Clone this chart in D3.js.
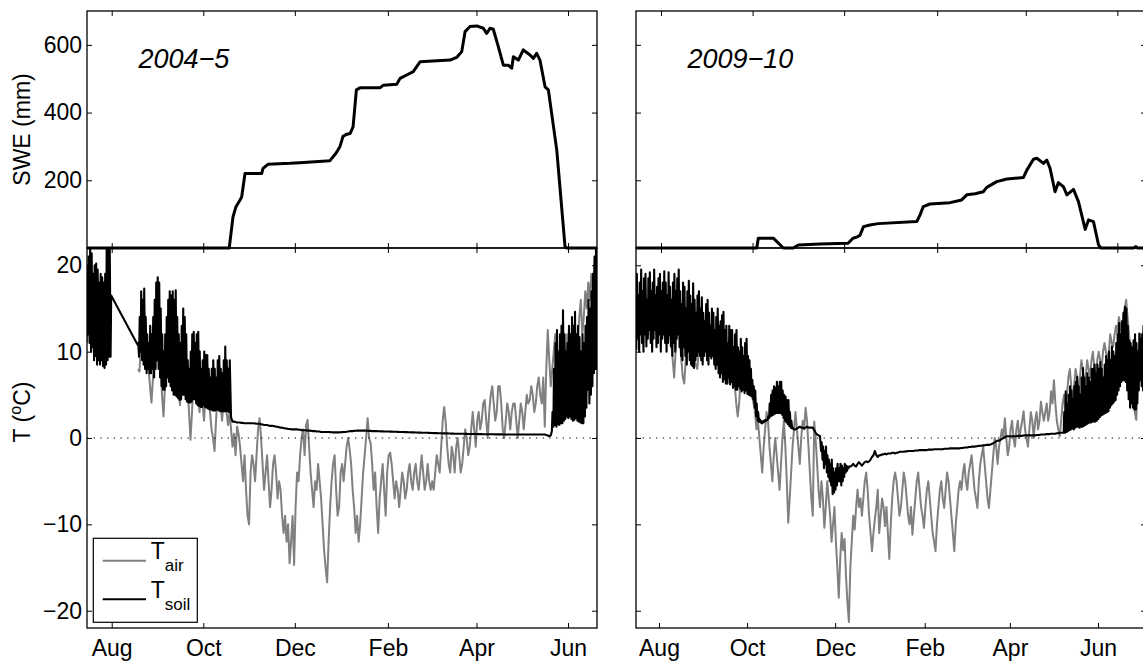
<!DOCTYPE html>
<html>
<head>
<meta charset="utf-8">
<script src="https://cdn.jsdelivr.net/npm/d3@7"></script>
<style>
  body { margin: 0; background: #fff; }
  svg { display: block; background: #fff; }
  text { font-family: "Liberation Sans", Arial, sans-serif; }
</style>
</head>
<body>
<svg id="chart" width="1143" height="664"></svg>
<script>
// ---------------------------------------------------------------
// Snow water equivalent (mm): breakpoints as days after 1 August
// ---------------------------------------------------------------
const swe2004Day = [-16.5, 78.3, 80.8, 82.8, 85.5, 86.6, 88.8, 99.9, 100.8, 104.1, 118.8, 125.4, 145.4, 149.4, 152.1, 154.1, 156.1, 158.8, 160.8, 163.0, 165.4, 178.7, 181.0, 189.9, 192.1, 196.5, 200.9, 205.4, 225.4, 229.8, 233.2, 235.4, 238.7, 243.2, 247.6, 249.8, 252.0, 254.2, 257.6, 260.9, 264.2, 266.5, 267.6, 270.9, 274.2, 278.7, 280.9, 283.1, 285.3, 288.7, 290.9, 296.5, 302.0, 303.1, 323.5];
const swe2004 = [0, 0, 92, 122, 142, 151, 220, 220, 235, 247, 250, 252, 258, 280, 300, 330, 335, 338, 358, 467, 473, 473, 481, 484, 501, 511, 521, 550, 555, 563, 580, 639, 654, 656, 649, 634, 649, 646, 594, 540, 540, 531, 565, 555, 585, 570, 560, 575, 555, 476, 467, 289, 4, 0, 0];

const swe2009Day = [-16.66, 63.8, 64.8, 74.8, 81.5, 88.1, 91.5, 105.9, 124.6, 127.9, 130.4, 132.6, 134.9, 139.2, 144.6, 170.4, 172.5, 174.7, 179.2, 192.5, 200.3, 203.7, 209.2, 214.7, 217.0, 223.7, 230.4, 241.4, 243.7, 248.1, 250.4, 254.8, 257.0, 259.2, 262.5, 264.7, 268.1, 270.4, 274.8, 278.1, 282.6, 284.8, 288.1, 291.5, 293.1, 314.8, 316.4, 317.6, 323.1];
const swe2009 = [0, 0, 29, 29, 0, 0, 9, 12, 14, 29, 32, 38, 63, 68, 72, 78, 97, 122, 130, 134, 142, 157, 160, 166, 179, 196, 204, 208, 230, 262, 265, 250, 260, 235, 166, 193, 181, 157, 173, 137, 55, 83, 78, 9, 0, 0, 4, 0, 0];

// ---------------------------------------------------------------
// Daily temperatures (°C). 2004-5 series start 15 Jul 2004,
// 2009-10 series start 16 Jul 2009. null = no record.
// Soil: daily maximum and minimum; minimum null = no daily range.
// ---------------------------------------------------------------
const airT2004 = [
  14,15,16,13,12,14,13,12,11,12,13,12,11,12,14,15,13,
  null,null,null,null,null,null,null,null,null,null,null,null,null,null,null,null,null,
  8,7.7,11,14,15,13,10,8,6,4.1, 7,11,14,16,14,9,5,2.5,6,10,
  14,15,12,9,7,5,8,6,3.8,7, 11,12,9,6,3,-0.2,3,7,10,8,
  5,3,6,4,2,5,8,6,3,1, 0,-1.5,2,5,7,4,2,4,6,3, 1.5,3,
  1,-1,0.5,-2,1.3, 0.5,-1,-3,-5,-2,
  -6,-9,-10,-4,-2, -3,-5,-2,1,2.3,
  0,-3,-6,-4,-2, -5,-8,-6,-3,-2,
  -4,-7,-5,-6,-9, -11,-9,-12,-10,-14.5,
  -12,-9,-14.7,-8,-4, -5,-2,0,1,-2,
  1.5,2.1,-1,-4,-6, -8,-5,-6,-3,-5,
  -7,-10,-13,-15,-16.7, -12,-8,-5,-3,-2,
  -6,-9,-8,-4,-3, -5,-3,-1,0,-1.3,
  -3,-6,-8,-11,-9, -12,-10,-7,-4,-2,
  0,2.3,0,-0.6,-3, -6,-4,-8,-11,-7,
  -5,-3,-6,-9,-4, -2,-1.7,-3,-5,-7,
  -5,-6,-8,-6,-4, -5,-7,-6,-4,-3,
  -5,-6,-4,-3,-5, -6,-4,-2,-4,-6,
  -5,-3,-5,-6,-5, -6,-4,-2,-3,-4,
  -1,2,3.6,1.8,-1, -3,-4,-1,-2,-4,
  -1,0,-2,-4,-3, -1,1,0,-2,-1,
  1,3,1,-1,2, 3,1,2,4,4.4,
  2,0,3,5,6, 4,2,3,6,6,
  4,1,0,2,4, 3,1,3,4,4,
  2,0,2,4,3, 1,3,5,4,4.4,
  6,5,3,4,6, 7,5,4,7,1.3,
  8,12.5,9,6,8, 10,12,8,6,9,
  11,13,10,8,12, 10,8,11,13,12,
  9,11,14,16,12, 14,17,15,18,16,
  19,17,20,21,19
];

const soilMax2004 = [
  20,21,22,21.4,19,20,20.2,19.5,18,19,18.6,18,19,22,22.5,23,16.5,
  null,null,null,null,null,null,null,null,null,null,null,null,null,null,null,null,null,
  11,14,17,16,17.3,14,12,11,13,12, 14,16,18,18.6,18,15,12,10,12,14,
  16,17,16.5,17,16,17.1,14,12,11,13, 15,14,12,9,8,10,12,12.3,11,12,
  12.3,10,8,9,10,9.6,9.6,8,7,8, 9,8,7,9,9.5,8,7.5,9,10.6,9, 8,9,
  2.4,1.9,1.9,1.85,1.8,1.8,1.8,1.75,1.75,1.7,
  1.7,1.7,1.7,1.7,1.7,1.7,1.68,1.66,1.65,1.65,
  1.6,1.55,1.5,1.5,1.5,1.45,1.4,1.4,1.4,1.35,
  1.3,1.3,1.25,1.2,1.2,1.15,1.1,1.1,1.05,1.05,
  1.0,1.0,1.0,1.0,1.0,0.95,0.95,0.9,0.9,0.9,
  0.9,0.85,0.85,0.85,0.8,0.8,0.8,0.75,0.75,0.75,
  0.7,0.7,0.7,0.7,0.7,0.7,0.68,0.66,0.65,0.65,
  0.65,0.65,0.65,0.66,0.68,0.7,0.7,0.72,0.75,0.78,
  0.8,0.8,0.82,0.84,0.85,0.85,0.85,0.85,0.85,0.85,
  0.85,0.84,0.83,0.82,0.8,0.8,0.8,0.8,0.78,0.78,
  0.77,0.77,0.76,0.76,0.75,0.75,0.74,0.74,0.73,0.72,
  0.72,0.71,0.7,0.7,0.7,0.69,0.68,0.68,0.67,0.66,
  0.65,0.65,0.65,0.64,0.63,0.62,0.62,0.61,0.6,0.6,
  0.6,0.6,0.59,0.58,0.58,0.57,0.56,0.56,0.55,0.55,
  0.55,0.54,0.54,0.53,0.53,0.52,0.52,0.51,0.51,0.5,
  0.5,0.5,0.5,0.5,0.49,0.49,0.48,0.48,0.47,0.47,
  0.47,0.46,0.46,0.46,0.45,0.45,0.45,0.45,0.44,0.44,
  0.44,0.44,0.43,0.43,0.43,0.43,0.42,0.42,0.42,0.42,
  0.42,0.41,0.41,0.41,0.41,0.4,0.4,0.4,0.4,0.4,
  0.4,0.4,0.4,0.4,0.4,0.4,0.4,0.4,0.4,0.4,
  0.4,0.4,0.4,0.4,0.4,0.4,0.4,0.4,0.4,0.4,
  0.35,0.3,0.2,0.3,
  3,8,11,12.5,10,12,13,14.8,12,10, 11,13,12,14,13,14.6,12,13,11.7,10,
  12,11,13,14,16,15,17,19,21,23, 23
];

const soilMin2004 = [
  11,12,11,10,10.5,9,9.5,8.5,9,8.5,9,8.3,8.1,8.5,9,9.4,9.4,
  null,null,null,null,null,null,null,null,null,null,null,null,null,null,null,null,null,
  10.8,9.4,10,9,8.5,8,7.5,8,7.5,7.5, 8,7,8,9,8,7,6,5.6,5.6,6,
  7,6.5,6,5.5,5,5,4.8,4.6,4.4,4.5, 5,5,4.5,4.2,4.1,4.1,4.2,4.5,4.5,4,
  3.8,3.7,3.6,3.6,3.8,3.6,3.5,3.4,3.3,3.3, 3.2,3.2,3.2,3.3,3.2,3.1,3.1,3.1,3.1,3.1, 3.1,3.0,
  null,null,null,null,null,null,null,null,null,null,
  null,null,null,null,null,null,null,null,null,null,
  null,null,null,null,null,null,null,null,null,null,
  null,null,null,null,null,null,null,null,null,null,
  null,null,null,null,null,null,null,null,null,null,
  null,null,null,null,null,null,null,null,null,null,
  null,null,null,null,null,null,null,null,null,null,
  null,null,null,null,null,null,null,null,null,null,
  null,null,null,null,null,null,null,null,null,null,
  null,null,null,null,null,null,null,null,null,null,
  null,null,null,null,null,null,null,null,null,null,
  null,null,null,null,null,null,null,null,null,null,
  null,null,null,null,null,null,null,null,null,null,
  null,null,null,null,null,null,null,null,null,null,
  null,null,null,null,null,null,null,null,null,null,
  null,null,null,null,null,null,null,null,null,null,
  null,null,null,null,null,null,null,null,null,null,
  null,null,null,null,null,null,null,null,null,null,
  null,null,null,null,null,null,null,null,null,null,
  null,null,null,null,null,null,null,null,null,null,
  null,null,null,null,null,null,null,null,null,null,
  null,null,null,null,
  0.8,1.3,1.5,1.3,1.6,1.5,1.7,1.7,2,2.2, 2.5,2.3,2.5,2.2,2,2.1,2.3,2,1.9,1.8,
  1.7,1.7,2.5,3.5,5.6,4,5,6,7.5,8, 8
];

const airT2009 = [
  14,15,13,12,14,16,15,13,12,14, 15,16,14,13,12,14,15,16,14,13,
  14,15,13,12,11,9,7,10,13,14, 12,9,7,6.3,9,12,14,13,11,10,
  9,8.5,8,10,12,13,12,11,12,13, 12,11,10,11,12,11,10,11,10,9,
  9,8,7,6.3,8,10,9,8,6,4, 2.5,4,7,9,8,6,7,8,7,6,
  4.8,4,3,1,2,0,-2,-4,-1,1, 3,2,-1,-3,-5,-2,0,-2,-4,-6,
  -3,0,2,-1,-5,-9.8,-7,-4,-1,1, 3,1,-1,-3,0,2,1,3.5,2,-1,
  -4,-7,-9,1.9,-0.2,-3,-6,-8,-5,-7, -10.4,-8,-5,-7,-9,-12,-10,-8,-12,-15,
  -18.5,-14,-11,-13,-11.7,-16,-19,-21.3,-15,-12, -9,-10.6,-8,-6,-8,-7,-9,-7,-5,-4,
  -6,-9,-11,-13.1,-11,-9.4,-8,-6,-11,-9, -7,-8,-10.2,-8,-11,-14,-10,-7,-5,-4,
  -5,-7,-9,-8,-6,-4,-5,-7,-9,-10, -8,-11.2,-9,-7,-5,-4,-6,-8,-9,-10.4,
  -8,-6,-5,-7,-9,-11,-12,-13.1,-10,-8, -6,-5,-7,-8.1,-6,-4,-5,-7,-9,-11,
  -13.1,-10,-8,-6,-5,-6,-4,-3,-5,-6, -4,-3,-2,-4,-6,-7,-8.1,-5,-3,-2,
  -1,-3,-5,-7,-8.1,-6,-4,-2,0,-1, -3,-1,0,1,0,2.3,0,-2,-1,1,
  2,0,-1,1,2,0,1,2,3.1,1, 0,-1,1,3,2,0,2,3,1,2,
  4.2,3,2,3,4,2,3,5.4,4,6.7, 4,2,1,0.2,2,4,5,3,5,7,
  8,6,4,6,8,7,5,7,9,8, 6,7,9,8,7,9,10,8,7,9,
  10,9,8,10,11,10,9,10,12,11, 10.6,12,13,12,14,13,12,14,15,16,
  14,12,10,8,5,3,2.1,6,10,12, 11,13,12,13
];

const soilMax2009 = [
  19,16.5,18,19.5,17,18.5,19,16,18.5,19.2, 17,18,19.5,16.5,17.5,18.5,19,17,18,19.3,
  18,16.5,19.2,17.5,16,18,19,17,18.5,19.5, 17,15.5,18,17.5,15,17,18.2,16.5,15.5,17.9,
  16,14.5,16.5,17,15,16.3,14.5,13.5,15.5,16, 14.5,13,15,14.5,12.5,14,15,13,13.5,14.2,
  14.6,12.5,13,11,13,12.5,12.5,10.5,12,12.5, 10.5,10,11.5,10.5,9.5,11,11.5,9.5,9,8,
  6.7,6,5.5,4,3,
  2.2,2,1.9,2,2.1, 2.1,2.5,4,5,5.5, 6,5.8,6.5,6,6.5, 6.5,5.5,5,4.8,4.4,
  4.4,3,2,1.2,1, 1,1.1,1.2,1.3,1.2, 1.2,1.1,1.2,1.3,1.2, 1.2,1.2,1.2,0.9,0.6,
  0.4,0.3,0.2,
  -0.5,-1,-1.5,-1,-2,-2.5,-3,-2.5,-3.5,-4, -3.5,-3,-3.5,-3,-3.2,-3.5,-3,-3.2,-3.3,-3.3,
  -3.3,-3.2,-3,-3.2,-3.3,-3,-2.8,-3,-3.2,-3,-2.8,-2.7,-2.8,-2.7,
  -2.5,-2.2,-2,-1.5,-2,-2.2,-2,
  -2,-1.9,-1.9,-1.8,-1.9,-1.8,-1.8,-1.8,-1.7,-1.7,-1.8,-1.7,-1.7,-1.6,
  -1.6,-1.6,-1.6,-1.55,-1.55,-1.5,-1.5,-1.5,-1.5,-1.5,
  -1.45,-1.45,-1.45,-1.4,-1.4,-1.4,-1.4,-1.4,-1.4,-1.35,
  -1.35,-1.35,-1.35,-1.3,-1.3,-1.3,-1.3,-1.3,-1.3,-1.3,
  -1.25,-1.25,-1.25,-1.25,-1.2,-1.2,-1.2,-1.2,-1.2,-1.2, -1.2,-1.2,
  -1.15,-1.15,-1.1,-1.1,-1.1,-1.05,-1.05,-1,-1,-1, -0.95,-0.95,-0.9,-0.9,-0.9,-0.85,-0.85,-0.8,-0.8,-0.8, -0.75,
  -0.7,-0.6,-0.5,-0.4,-0.3,-0.3,-0.2,
  -0.1,0,0.1,0.2,0.2,0.2,0.2,
  0.2,0.2,0.2,0.2,0.25,0.25,0.25,0.25,0.3,0.3,
  0.3,0.3,0.3,0.3,0.3,0.3,0.3,0.35,0.35,0.35,
  0.4,0.4,0.4,0.4,0.45,0.45,0.45,0.5,0.5,0.5,
  0.5,0.55,0.55,0.6,0.6,0.6,
  3,5.4,4,5,6,5.5,4.5,6,6.5,7.1, 6,5,7,8.1,7,6,7.5,7,6.5,8,
  8,8.5,7.5,8.5,8,8.8,8,7,8.5,9.5, 9,10,9,10.6,10,9.5,11,12,13.3,12,
  13.5,14.5,15.2,15,13,11.3,11,10.5,11.3,12, 11,10,12.1,11.5,12,13,12.5,12
];

const soilMin2009 = [
  10.2,11.5,10,12,11,10,12,10.6,11.5,12.5, 11,10,11.5,12.5,10.5,11,12,10,11.5,12,
  11,10,11,12,10.6,9.5,11,10,11.5,12, 10.5,9.5,9,10.5,9.5,8.5,10,9,8.5,8.3,
  8.1,9,9.5,10,9.5,9,8.5,9.5,10,9, 8.5,9.5,9.2,9.5,8.5,8,8.5,7.5,7,7.5,
  6.5,6.8,6.3,6.3,7,6.2,6.5,5.8,6,5.6, 5.6,6,5.7,5.4,5.6,5.2,5.5,5.1,5,4.9,
  4.8,4.5,3.5,2.5,2,
  1.9,1.8,1.7,1.8,1.9, 2,2.1,2.3,2.5,2.6, 2.7,2.8,2.9,2.9,2.9, 2.9,2.7,2.3,2,1.8,
  1.6,1.4,1.2,1.1,1,
  null,null,null,null,null,null,null,null,null,null, null,null,null,null,null,null,null,null,
  -1.5,-2.5,-3.5,-3,-4,-4.5,-5,-5.5,-6.5,-6.3, -6,-5.5,-5,-5,-5.5,-5,-4.5,-4,-3.8,-3.5,
  null,null,null,null,null,null,null,null,null,null,
  null,null,null,null,null,null,null,null,null,null,
  null,null,null,null,null,null,null,null,null,null,
  null,null,null,null,null,null,null,null,null,null,
  null,null,null,null,null,null,null,null,null,null,
  null,null,null,null,null,null,null,null,null,null,
  null,null,null,null,null,null,null,null,null,null,
  null,null,null,null,null,null,null,null,null,null,
  null,null,null,null,null,null,null,null,null,null,
  null,null,null,null,null,null,null,null,null,null,
  null,null,null,null,null,null,null,null,null,null,
  null,null,null,null,null,null,null,null,null,null,
  null,null,null,null,null,null,null,null,null,null,
  null,null,null,null,null,null,null,null,null,null,
  null,null,null,null,null,null,null,null,
  0.6,0.6,0.7,0.8,0.9,1.0,1.1,1.0,1.2,1.3, 1.3,1.2,1.3,1.3,1.4,1.5,1.6,1.7,1.8,1.8,
  1.9,1.9,1.9,2.0,2.2,2.4,2.6,2.7,2.8,2.9, 3.0,3.1,3.5,3.8,4.0,4.2,4.4,5,5.5,6,
  6.5,6.7,6.7,6.5,5.5,4.5,3.5,4,3.5,3.3, 3.3,4,5.5,6.7,6,5.5,6,6.5
];

const sweTicks = [200, 400, 600];
const tempTicks = [-20, -10, 0, 10, 20];
const seasonTitles = ["2004\u22125", "2009\u221210"];
const legendNames = [["T", "air"], ["T", "soil"]];

// ---------------------------------------------------------------
const DAY = 86400000;
const svg = d3.select("#chart");
const FONT = "Liberation Sans, Arial, sans-serif";

const sweTop = 11, sweBottom = 248, tTop = 248, tBottom = 628;
const ySwe = d3.scaleLinear().domain([0, 700]).range([sweBottom, sweTop]);
const yT = d3.scaleLinear().domain([-22, 22]).range([tBottom, tTop]);

const seasons = [
  { title: seasonTitles[0], left: 87, right: 597, aug1: Date.UTC(2004, 7, 1),
    sweSpan: [-16.46, 323.3], tSpan: [-16.46, 323.3], tStart: Date.UTC(2004, 6, 15),
    sweDay: swe2004Day, swe: swe2004, air: airT2004, soilMax: soilMax2004, soilMin: soilMin2004,
    labels: true, legend: true },
  { title: seasonTitles[1], left: 636, right: 1146, aug1: Date.UTC(2009, 7, 1),
    sweSpan: [-16.66, 323.1], tSpan: [-15.93, 337.26], tStart: Date.UTC(2009, 6, 16),
    sweDay: swe2009Day, swe: swe2009, air: airT2009, soilMax: soilMax2009, soilMin: soilMin2009,
    labels: false, legend: false }
];

function styleAxis(g, size) {
  g.select(".domain").remove();
  g.selectAll(".tick line").attr("stroke", "#000").attr("stroke-width", 1);
  g.selectAll("text").attr("font-family", FONT).attr("font-size", size).attr("fill", "#000");
}

seasons.forEach((s, k) => {
  const w = s.right - s.left;
  const xSwe = d3.scaleUtc()
    .domain([new Date(s.aug1 + s.sweSpan[0] * DAY), new Date(s.aug1 + s.sweSpan[1] * DAY)])
    .range([s.left, s.right]);
  const xT = d3.scaleUtc()
    .domain([new Date(s.aug1 + s.tSpan[0] * DAY), new Date(s.aug1 + s.tSpan[1] * DAY)])
    .range([s.left, s.right]);
  const months = d3.utcMonth.range(new Date(s.aug1), new Date(s.aug1 + 330 * DAY), 2);

  const defs = svg.append("defs");
  defs.append("clipPath").attr("id", "clipSwe" + k)
    .append("rect").attr("x", s.left).attr("y", sweTop).attr("width", w).attr("height", sweBottom - sweTop + 2);
  defs.append("clipPath").attr("id", "clipT" + k)
    .append("rect").attr("x", s.left).attr("y", tTop).attr("width", w).attr("height", tBottom - tTop);

  // SWE trace
  const swePts = s.sweDay.map((d, i) => [new Date(s.aug1 + d * DAY), s.swe[i]]);
  svg.append("path")
    .attr("clip-path", `url(#clipSwe${k})`)
    .attr("d", d3.line().x(d => xSwe(d[0])).y(d => ySwe(d[1]))(swePts))
    .attr("fill", "none").attr("stroke", "#000").attr("stroke-width", 3)
    .attr("stroke-linejoin", "round");

  // air temperature (daily)
  const airPts = s.air.map((v, i) => [new Date(s.tStart + (i + 0.5) * DAY), v]);
  svg.append("path")
    .attr("clip-path", `url(#clipT${k})`)
    .attr("d", d3.line().defined(d => d[1] != null).x(d => xT(d[0])).y(d => yT(d[1]))(airPts))
    .attr("fill", "none").attr("stroke", "#808080").attr("stroke-width", 2)
    .attr("stroke-linejoin", "round");

  // soil temperature: daily minimum and maximum traced in time order
  const soilPts = [];
  s.soilMax.forEach((hi, i) => {
    if (hi == null) return;
    const lo = s.soilMin[i];
    if (lo == null) {
      soilPts.push([new Date(s.tStart + (i + 0.5) * DAY), hi]);
    } else {
      soilPts.push([new Date(s.tStart + (i + 0.25) * DAY), lo]);
      soilPts.push([new Date(s.tStart + (i + 0.65) * DAY), hi]);
    }
  });
  svg.append("path")
    .attr("clip-path", `url(#clipT${k})`)
    .attr("d", d3.line().x(d => xT(d[0])).y(d => yT(d[1]))(soilPts))
    .attr("fill", "none").attr("stroke", "#000").attr("stroke-width", 2.1)
    .attr("stroke-linejoin", "round");

  // zero reference
  svg.append("line")
    .attr("x1", s.left).attr("x2", s.right).attr("y1", yT(0)).attr("y2", yT(0))
    .attr("stroke", "#000").attr("stroke-width", 1.1).attr("stroke-dasharray", "1.3 5.4");

  // frames
  [[sweTop, sweBottom], [tTop, tBottom]].forEach(([t, b]) => {
    svg.append("rect").attr("x", s.left).attr("y", t).attr("width", w).attr("height", b - t)
      .attr("fill", "none").attr("stroke", "#000").attr("stroke-width", 1.3);
  });

  // SWE axes
  const sweL = svg.append("g").attr("transform", `translate(${s.left},0)`)
    .call(d3.axisLeft(ySwe).tickValues(sweTicks).tickSize(-5).tickPadding(5)
      .tickFormat(s.labels ? d3.format("d") : () => ""));
  styleAxis(sweL, 23);
  styleAxis(svg.append("g").attr("transform", `translate(${s.right},0)`)
    .call(d3.axisRight(ySwe).tickValues(sweTicks).tickSize(-5).tickFormat(() => "")), 23);
  styleAxis(svg.append("g").attr("transform", `translate(0,${sweTop})`)
    .call(d3.axisTop(xSwe).tickValues(months).tickSize(-5).tickFormat(() => "")), 23);
  styleAxis(svg.append("g").attr("transform", `translate(0,${sweBottom})`)
    .call(d3.axisBottom(xSwe).tickValues(months).tickSize(5).tickFormat(() => "")), 23);
  styleAxis(svg.append("g").attr("transform", `translate(0,${sweBottom})`)
    .call(d3.axisTop(xSwe).tickValues(months).tickSize(5).tickFormat(() => "")), 23);

  // temperature axes
  const tL = svg.append("g").attr("transform", `translate(${s.left},0)`)
    .call(d3.axisLeft(yT).tickValues(tempTicks).tickSize(-5).tickPadding(5)
      .tickFormat(s.labels ? d3.format("d") : () => ""));
  styleAxis(tL, 23);
  styleAxis(svg.append("g").attr("transform", `translate(${s.right},0)`)
    .call(d3.axisRight(yT).tickValues(tempTicks).tickSize(-5).tickFormat(() => "")), 23);
  styleAxis(svg.append("g").attr("transform", `translate(0,${tBottom})`)
    .call(d3.axisBottom(xT).tickValues(months).tickSize(-5).tickPadding(12)
      .tickFormat(d3.utcFormat("%b"))), 23);

  // season title
  svg.append("text").attr("x", s.left + 51.5).attr("y", 68.3)
    .attr("font-family", FONT).attr("font-size", 27).attr("font-style", "italic")
    .text(s.title);

  if (s.labels) {
    svg.append("text")
      .attr("transform", `translate(29.5,${(sweTop + sweBottom) / 2}) rotate(-90)`)
      .attr("text-anchor", "middle").attr("font-family", FONT).attr("font-size", 23)
      .text("SWE (mm)");
    const tl = svg.append("text")
      .attr("transform", `translate(29.5,412) rotate(-90)`)
      .attr("text-anchor", "middle").attr("font-family", FONT).attr("font-size", 23);
    tl.append("tspan").text("T (");
    tl.append("tspan").attr("font-size", 16).attr("dy", -9).text("o");
    tl.append("tspan").attr("dy", 9).text("C)");
  }

  if (s.legend) {
    const lg = svg.append("g");
    lg.append("rect").attr("x", 93.3).attr("y", 538.3).attr("width", 104).attr("height", 84)
      .attr("fill", "#fff").attr("stroke", "#000").attr("stroke-width", 1.2);
    const colors = ["#808080", "#000"];
    const lineY = [560.7, 599.3];
    legendNames.forEach(([main, sub], j) => {
      lg.append("line").attr("x1", 102.7).attr("x2", 146).attr("y1", lineY[j]).attr("y2", lineY[j])
        .attr("stroke", colors[j]).attr("stroke-width", 2);
      const t = lg.append("text").attr("x", 150.7).attr("y", lineY[j] - 1.5)
        .attr("font-family", FONT).attr("font-size", 23);
      t.append("tspan").text(main);
      t.append("tspan").attr("font-size", 17).attr("dy", 12).text(sub);
    });
  }
});
</script>
</body>
</html>
